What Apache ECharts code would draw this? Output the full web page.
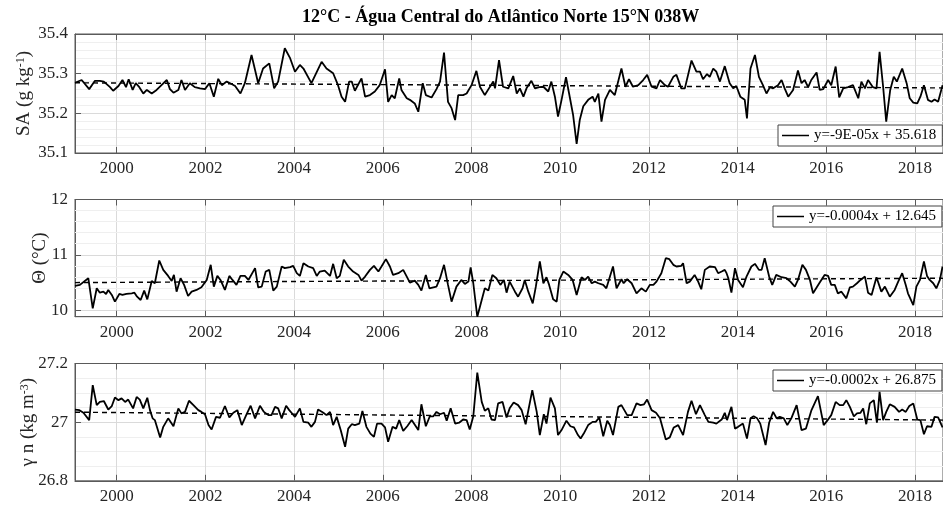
<!DOCTYPE html>
<html>
<head>
<meta charset="utf-8">
<script src="https://cdn.jsdelivr.net/npm/echarts@6/dist/echarts.min.js"></script>
<style>
html, body { margin: 0; padding: 0; background: #fff; }
#chart { width: 943px; height: 505px; }
</style>
</head>
<body>
<div id="chart"></div>
<script>
// ---- data (decimal year, value) ----
const titleText = '12°C - Água Central do Atlântico Norte 15°N 038W';
const yearTicks = [2000, 2002, 2004, 2006, 2008, 2010, 2012, 2014, 2016, 2018];
const xMin = 1999.06;
const xMax = 2018.63;

const saLegend = 'y=-9E-05x + 35.618';
const saTicks = [35.1, 35.2, 35.3, 35.4];
const saTrend = [[1999.06, 35.277], [2018.63, 35.264]];
const saData = [
  [1999.06,35.277],[1999.21,35.284],[1999.38,35.261],[1999.51,35.282],[1999.62,35.282],[1999.71,35.280],[1999.85,35.266],[1999.92,35.257],
  [2000.04,35.269],[2000.13,35.284],[2000.21,35.266],[2000.27,35.286],[2000.36,35.259],[2000.43,35.276],[2000.51,35.266],[2000.60,35.250],
  [2000.68,35.259],[2000.79,35.250],[2000.90,35.259],[2001.01,35.271],[2001.13,35.284],[2001.20,35.261],[2001.28,35.252],[2001.39,35.259],
  [2001.46,35.284],[2001.54,35.259],[2001.65,35.276],[2001.76,35.266],[2001.88,35.263],[2001.99,35.261],[2002.09,35.276],[2002.19,35.242],
  [2002.29,35.287],[2002.37,35.271],[2002.48,35.280],[2002.59,35.274],[2002.67,35.269],[2002.79,35.250],[2002.89,35.276],[2003.04,35.347],
  [2003.19,35.276],[2003.30,35.313],[2003.44,35.326],[2003.55,35.263],[2003.64,35.280],[2003.79,35.364],[2003.91,35.339],[2004.02,35.305],
  [2004.13,35.322],[2004.21,35.313],[2004.39,35.276],[2004.62,35.330],[2004.73,35.313],[2004.88,35.301],[2004.99,35.271],[2005.07,35.242],
  [2005.15,35.229],[2005.24,35.280],[2005.30,35.280],[2005.37,35.257],[2005.52,35.288],[2005.60,35.242],[2005.71,35.246],[2005.82,35.255],
  [2005.93,35.271],[2006.05,35.311],[2006.12,35.229],[2006.20,35.246],[2006.27,35.238],[2006.37,35.288],[2006.42,35.259],[2006.54,35.238],
  [2006.61,35.234],[2006.72,35.225],[2006.80,35.204],[2006.90,35.276],[2006.97,35.246],[2007.10,35.240],[2007.21,35.261],[2007.29,35.280],
  [2007.38,35.353],[2007.47,35.229],[2007.55,35.213],[2007.63,35.183],[2007.70,35.246],[2007.81,35.246],[2007.89,35.250],[2008.00,35.271],
  [2008.11,35.307],[2008.19,35.267],[2008.30,35.246],[2008.41,35.266],[2008.49,35.280],[2008.53,35.263],[2008.62,35.334],[2008.71,35.267],
  [2008.83,35.263],[2008.94,35.294],[2009.02,35.250],[2009.09,35.263],[2009.17,35.242],[2009.24,35.263],[2009.35,35.282],[2009.43,35.263],
  [2009.53,35.266],[2009.62,35.267],[2009.73,35.255],[2009.80,35.280],[2009.88,35.242],[2009.95,35.192],[2010.03,35.234],[2010.13,35.291],
  [2010.20,35.250],[2010.29,35.196],[2010.37,35.123],[2010.44,35.183],[2010.52,35.218],[2010.63,35.234],[2010.73,35.242],[2010.78,35.229],
  [2010.86,35.250],[2010.93,35.179],[2011.01,35.234],[2011.12,35.259],[2011.23,35.246],[2011.38,35.313],[2011.47,35.267],[2011.55,35.286],
  [2011.64,35.267],[2011.76,35.271],[2011.87,35.284],[2011.96,35.297],[2012.06,35.267],[2012.17,35.263],[2012.25,35.284],[2012.36,35.271],
  [2012.43,35.267],[2012.55,35.292],[2012.62,35.297],[2012.73,35.263],[2012.81,35.263],[2012.96,35.333],[2013.07,35.305],[2013.15,35.305],
  [2013.22,35.286],[2013.31,35.299],[2013.37,35.292],[2013.45,35.313],[2013.52,35.305],[2013.60,35.280],[2013.71,35.319],[2013.82,35.276],
  [2013.90,35.263],[2013.97,35.269],[2014.06,35.242],[2014.16,35.234],[2014.21,35.187],[2014.29,35.313],[2014.39,35.347],[2014.48,35.292],
  [2014.57,35.271],[2014.65,35.250],[2014.73,35.266],[2014.80,35.263],[2014.91,35.271],[2014.99,35.284],[2015.06,35.263],[2015.14,35.242],
  [2015.25,35.259],[2015.36,35.308],[2015.44,35.276],[2015.51,35.284],[2015.59,35.266],[2015.66,35.284],[2015.78,35.303],[2015.85,35.259],
  [2015.93,35.261],[2016.04,35.284],[2016.11,35.271],[2016.21,35.318],[2016.29,35.240],[2016.38,35.263],[2016.49,35.266],[2016.60,35.271],
  [2016.72,35.238],[2016.79,35.280],[2016.87,35.263],[2016.94,35.284],[2017.05,35.266],[2017.13,35.263],[2017.20,35.355],[2017.28,35.267],
  [2017.35,35.179],[2017.44,35.259],[2017.52,35.292],[2017.59,35.280],[2017.71,35.313],[2017.81,35.276],[2017.88,35.238],[2017.96,35.227],
  [2018.05,35.225],[2018.12,35.242],[2018.20,35.271],[2018.29,35.234],[2018.37,35.229],[2018.44,35.235],[2018.52,35.229],[2018.62,35.271]
];

const thetaLegend = 'y=-0.0004x + 12.645';
const thetaTicks = [10, 11, 12];
const thetaMinor = [10.2, 10.4, 10.6, 10.8, 11.2, 11.4, 11.6, 11.8];
const thetaTrend = [[1999.06, 10.497], [2018.63, 10.576]];
const thetaData = [
  [1999.06,10.436],[1999.17,10.455],[1999.36,10.576],[1999.46,10.030],[1999.55,10.394],[1999.62,10.315],[1999.70,10.333],[1999.76,10.291],
  [1999.81,10.364],[1999.89,10.273],[1999.96,10.152],[2000.06,10.291],[2000.13,10.273],[2000.22,10.291],[2000.34,10.303],[2000.40,10.315],
  [2000.46,10.242],[2000.54,10.182],[2000.62,10.352],[2000.69,10.194],[2000.79,10.527],[2000.86,10.485],[2000.96,10.897],[2001.05,10.727],
  [2001.16,10.618],[2001.24,10.527],[2001.29,10.636],[2001.35,10.333],[2001.44,10.576],[2001.52,10.455],[2001.61,10.255],[2001.69,10.333],
  [2001.80,10.364],[2001.91,10.412],[2002.03,10.545],[2002.12,10.818],[2002.19,10.424],[2002.27,10.618],[2002.34,10.545],[2002.44,10.364],
  [2002.54,10.618],[2002.61,10.545],[2002.70,10.455],[2002.79,10.618],[2002.89,10.618],[2002.97,10.545],[2003.12,10.758],[2003.19,10.412],
  [2003.27,10.424],[2003.36,10.697],[2003.44,10.727],[2003.53,10.352],[2003.61,10.424],[2003.72,10.788],[2003.79,10.758],[2003.91,10.776],
  [2003.98,10.800],[2004.06,10.667],[2004.13,10.618],[2004.21,10.848],[2004.32,10.788],[2004.43,10.758],[2004.51,10.618],[2004.58,10.697],
  [2004.69,10.715],[2004.81,10.618],[2004.88,10.836],[2004.96,10.576],[2005.03,10.618],[2005.12,10.909],[2005.22,10.788],[2005.33,10.697],
  [2005.45,10.636],[2005.52,10.533],[2005.60,10.606],[2005.71,10.727],[2005.80,10.800],[2005.90,10.697],[2005.97,10.788],[2006.07,10.921],
  [2006.16,10.788],[2006.23,10.636],[2006.35,10.667],[2006.46,10.727],[2006.54,10.606],[2006.61,10.497],[2006.72,10.533],[2006.80,10.455],
  [2006.87,10.352],[2006.97,10.636],[2007.05,10.394],[2007.14,10.412],[2007.21,10.424],[2007.29,10.576],[2007.38,10.818],[2007.47,10.455],
  [2007.55,10.152],[2007.66,10.424],[2007.77,10.545],[2007.85,10.473],[2007.93,10.515],[2007.98,10.770],[2008.04,10.485],[2008.13,9.879],
  [2008.23,10.182],[2008.30,10.394],[2008.38,10.352],[2008.47,10.636],[2008.56,10.576],[2008.65,10.455],[2008.73,10.545],[2008.79,10.315],
  [2008.86,10.515],[2008.98,10.333],[2009.05,10.242],[2009.15,10.394],[2009.20,10.545],[2009.28,10.333],[2009.38,10.121],[2009.45,10.424],
  [2009.54,10.879],[2009.62,10.485],[2009.69,10.594],[2009.75,10.455],[2009.84,10.194],[2009.92,10.152],[2009.98,10.545],[2010.07,10.697],
  [2010.18,10.636],[2010.28,10.545],[2010.37,10.273],[2010.48,10.594],[2010.56,10.545],[2010.63,10.606],[2010.71,10.485],[2010.78,10.515],
  [2010.86,10.485],[2010.97,10.455],[2011.04,10.394],[2011.19,10.788],[2011.27,10.394],[2011.38,10.558],[2011.43,10.485],[2011.51,10.558],
  [2011.61,10.485],[2011.72,10.303],[2011.83,10.394],[2011.93,10.333],[2012.02,10.455],[2012.10,10.455],[2012.17,10.515],[2012.28,10.667],
  [2012.38,10.939],[2012.46,10.921],[2012.55,10.818],[2012.62,10.788],[2012.73,10.800],[2012.77,10.848],[2012.85,10.485],[2012.92,10.515],
  [2013.03,10.636],[2013.11,10.515],[2013.18,10.376],[2013.26,10.727],[2013.37,10.788],[2013.49,10.776],[2013.56,10.667],[2013.64,10.697],
  [2013.71,10.727],[2013.75,10.667],[2013.79,10.576],[2013.86,10.315],[2013.94,10.758],[2014.01,10.545],[2014.12,10.412],[2014.20,10.606],
  [2014.31,10.788],[2014.39,10.836],[2014.48,10.727],[2014.54,10.727],[2014.61,10.939],[2014.71,10.606],[2014.78,10.455],[2014.87,10.636],
  [2014.99,10.594],[2015.10,10.576],[2015.19,10.515],[2015.29,10.424],[2015.36,10.545],[2015.46,10.818],[2015.54,10.727],[2015.63,10.545],
  [2015.70,10.303],[2015.84,10.485],[2015.96,10.636],[2016.04,10.618],[2016.11,10.455],[2016.19,10.455],[2016.26,10.303],[2016.34,10.333],
  [2016.45,10.212],[2016.53,10.412],[2016.60,10.424],[2016.69,10.485],[2016.77,10.545],[2016.87,10.606],[2016.94,10.315],[2017.02,10.273],
  [2017.13,10.594],[2017.24,10.333],[2017.32,10.424],[2017.43,10.242],[2017.54,10.364],[2017.62,10.515],[2017.71,10.667],[2017.79,10.455],
  [2017.84,10.303],[2017.96,10.091],[2018.03,10.424],[2018.11,10.545],[2018.20,10.879],[2018.27,10.618],[2018.33,10.545],[2018.41,10.485],
  [2018.48,10.394],[2018.56,10.545],[2018.62,10.788]
];

const gammaLegend = 'y=-0.0002x + 26.875';
const gammaTicks = [26.8, 27, 27.2];
const gammaTrend = [[1999.06, 27.034], [2018.63, 27.007]];
const gammaData = [
  [1999.06,27.043],[1999.16,27.041],[1999.25,27.032],[1999.38,27.007],[1999.46,27.126],[1999.55,27.058],[1999.62,27.069],[1999.71,27.072],
  [1999.81,27.043],[1999.89,27.055],[1999.96,27.084],[2000.04,27.075],[2000.11,27.081],[2000.19,27.069],[2000.26,27.077],[2000.37,27.047],
  [2000.45,27.086],[2000.52,27.077],[2000.60,27.047],[2000.69,27.083],[2000.75,27.041],[2000.81,27.013],[2000.86,27.007],[2000.98,26.948],
  [2001.05,26.984],[2001.16,27.013],[2001.28,26.986],[2001.39,27.047],[2001.46,27.030],[2001.54,27.035],[2001.63,27.073],[2001.73,27.058],
  [2001.84,27.041],[2001.91,27.035],[2001.99,27.027],[2002.07,26.990],[2002.14,26.975],[2002.24,27.018],[2002.33,27.015],[2002.44,27.055],
  [2002.54,27.016],[2002.63,27.032],[2002.72,27.041],[2002.82,26.990],[2002.93,27.027],[2003.02,27.056],[2003.12,27.013],[2003.23,27.056],
  [2003.32,27.035],[2003.42,27.024],[2003.49,27.024],[2003.57,27.052],[2003.64,27.047],[2003.72,27.013],[2003.82,27.056],[2003.89,27.041],
  [2003.97,27.027],[2004.02,27.018],[2004.13,27.047],[2004.21,27.001],[2004.32,26.998],[2004.39,26.984],[2004.47,27.001],[2004.54,27.043],
  [2004.66,27.032],[2004.73,27.024],[2004.81,27.035],[2004.88,26.990],[2004.96,27.018],[2005.05,26.973],[2005.15,26.916],[2005.22,26.978],
  [2005.30,26.993],[2005.37,26.990],[2005.47,26.995],[2005.54,27.038],[2005.63,26.984],[2005.72,26.961],[2005.80,26.950],[2005.87,26.995],
  [2005.97,26.995],[2006.05,26.982],[2006.12,26.933],[2006.22,26.984],[2006.30,26.978],[2006.37,27.007],[2006.46,26.970],[2006.55,26.986],
  [2006.65,27.007],[2006.80,26.973],[2006.87,27.061],[2006.97,26.986],[2007.06,27.020],[2007.14,27.020],[2007.21,27.035],[2007.29,27.027],
  [2007.38,27.032],[2007.44,27.005],[2007.53,27.047],[2007.63,26.995],[2007.72,26.998],[2007.81,27.009],[2007.89,27.007],[2007.96,26.975],
  [2008.04,27.020],[2008.13,27.169],[2008.23,27.069],[2008.30,27.039],[2008.38,27.047],[2008.45,27.009],[2008.53,27.007],[2008.60,27.064],
  [2008.70,27.069],[2008.79,27.016],[2008.86,27.047],[2008.95,27.067],[2009.05,27.058],[2009.13,27.041],[2009.22,26.993],[2009.37,27.109],
  [2009.47,27.035],[2009.54,26.956],[2009.63,27.027],[2009.69,26.995],[2009.78,27.084],[2009.88,27.047],[2009.95,26.956],[2010.03,26.973],
  [2010.14,27.005],[2010.23,26.986],[2010.31,26.982],[2010.40,26.956],[2010.46,26.944],[2010.53,26.961],[2010.63,26.990],[2010.73,27.001],
  [2010.80,27.001],[2010.88,27.016],[2010.97,26.952],[2011.06,27.005],[2011.12,26.990],[2011.19,26.956],[2011.31,27.052],[2011.38,27.058],
  [2011.51,27.024],[2011.61,27.024],[2011.72,27.064],[2011.81,27.058],[2011.89,27.061],[2011.96,27.077],[2012.06,27.041],[2012.16,27.032],
  [2012.25,27.013],[2012.38,26.941],[2012.47,26.948],[2012.56,26.982],[2012.66,26.990],[2012.77,26.956],[2012.88,27.035],[2012.96,27.073],
  [2013.06,27.027],[2013.15,27.058],[2013.26,27.024],[2013.34,27.001],[2013.45,26.998],[2013.52,26.995],[2013.64,27.009],[2013.71,27.032],
  [2013.76,27.007],[2013.86,27.052],[2013.94,26.978],[2014.01,26.984],[2014.12,26.995],[2014.21,26.944],[2014.29,27.013],[2014.36,27.020],
  [2014.44,27.013],[2014.51,26.995],[2014.63,26.922],[2014.71,26.998],[2014.80,27.035],[2014.88,27.013],[2014.95,27.018],[2015.04,27.013],
  [2015.12,26.990],[2015.21,27.013],[2015.33,27.058],[2015.44,26.973],[2015.54,26.978],[2015.66,27.039],[2015.81,27.089],[2015.94,26.990],
  [2016.02,27.005],[2016.11,27.024],[2016.21,27.069],[2016.30,27.058],[2016.38,27.058],[2016.45,27.075],[2016.53,27.052],[2016.62,27.020],
  [2016.69,27.030],[2016.77,27.032],[2016.83,27.047],[2016.90,26.993],[2016.98,27.064],[2017.07,27.075],[2017.14,26.998],[2017.20,27.103],
  [2017.28,27.007],[2017.35,27.035],[2017.43,27.061],[2017.54,27.052],[2017.64,27.035],[2017.71,27.043],[2017.79,27.035],[2017.87,27.055],
  [2017.96,27.064],[2018.05,27.009],[2018.12,27.007],[2018.20,26.959],[2018.27,26.986],[2018.37,26.984],[2018.44,27.018],[2018.52,27.016],
  [2018.62,26.982]
];

// ---- chart ----
const serif = 'Liberation Serif';
const axisColor = '#5a5a5a';
const textColor = '#262626';

const panels = [
  { data: saData, trend: saTrend, legend: saLegend, name: 'SA (g kg{sup|-1})', min: 35.1, max: 35.4, interval: 0.1,
    minor: 5, top: 34, height: 119, nameGap: 41, legendLeft: 778, legendTop: 125 },
  { data: thetaData, trend: thetaTrend, legend: thetaLegend, name: 'Θ (°C)', min: 9.88, max: 12, ticks: thetaTicks,
    top: 199.5, height: 117.2, nameGap: 25, legendLeft: 773, legendTop: 206 },
  { data: gammaData, trend: gammaTrend, legend: gammaLegend, name: 'γ n (kg m{sup|-3})', min: 26.8, max: 27.2, interval: 0.2,
    minor: 4, top: 363.5, height: 117.3, nameGap: 37, legendLeft: 773, legendTop: 370 }
];

const grid = [], xAxis = [], yAxis = [], series = [], legend = [];

panels.forEach(function (p, i) {
  grid.push({ left: 75, right: 0, top: p.top, height: p.height, show: true, borderColor: axisColor, borderWidth: 1 });

  xAxis.push({
    gridIndex: i, type: 'value', min: xMin, max: xMax,
    axisLine: { show: true, onZero: false, lineStyle: { color: axisColor } },
    axisTick: { show: true, inside: true, length: 6, lineStyle: { color: axisColor }, customValues: yearTicks },
    axisLabel: {
      fontFamily: serif, fontSize: 17, color: textColor, margin: 7, customValues: yearTicks,
      formatter: function (v) { return String(v); }
    },
    splitLine: { show: true, lineStyle: { color: '#dadada' } }
  });
  xAxis.push({
    gridIndex: i, type: 'value', position: 'top', min: xMin, max: xMax,
    axisLine: { show: true, onZero: false, lineStyle: { color: axisColor } },
    axisTick: { show: true, inside: true, length: 6, lineStyle: { color: axisColor }, customValues: yearTicks },
    axisLabel: { show: false, customValues: yearTicks },
    splitLine: { show: false }
  });

  yAxis.push({
    gridIndex: i, type: 'value', min: p.min, max: p.max, interval: p.interval,
    name: p.name, nameLocation: 'middle', nameRotate: 90, nameGap: p.nameGap, nameMoveOverlap: false,
    nameTextStyle: {
      fontFamily: serif, fontSize: 19, color: textColor,
      rich: { sup: { fontFamily: serif, fontSize: 12, color: textColor, verticalAlign: 'top' } }
    },
    axisLine: { show: true, onZero: false, lineStyle: { color: axisColor } },
    axisTick: { show: true, inside: true, length: 6, lineStyle: { color: axisColor }, customValues: p.ticks },
    axisLabel: { fontFamily: serif, fontSize: 17, color: textColor, margin: 7, customValues: p.ticks },
    splitLine: { show: true, lineStyle: { color: '#dadada' } },
    minorTick: { show: false, splitNumber: p.minor || 5 },
    minorSplitLine: { show: !!p.minor, lineStyle: { color: '#efefef' } }
  });

  const trendSeries = {
    type: 'line', xAxisIndex: 2 * i, yAxisIndex: i, data: p.trend,
    symbol: 'none', silent: true, z: 3,
    lineStyle: { color: '#000', width: 1.4, type: [5, 4] }
  };
  if (i === 1) {
    trendSeries.markLine = {
      silent: true, symbol: 'none', z: 1, animation: false,
      label: { show: false },
      lineStyle: { color: '#efefef', type: 'solid', width: 1 },
      data: thetaMinor.map(function (v) { return { yAxis: v }; })
    };
  }
  series.push(trendSeries);
  series.push({
    type: 'line', name: p.legend, xAxisIndex: 2 * i, yAxisIndex: i, data: p.data,
    symbol: 'none', showSymbol: false, z: 4,
    lineStyle: { color: '#000', width: 1.8 }, itemStyle: { color: '#000' }
  });

  legend.push({
    data: [p.legend], left: p.legendLeft, top: p.legendTop, selectedMode: false,
    icon: 'rect', itemWidth: 27, itemHeight: 1.5,
    backgroundColor: '#fff', borderColor: '#444', borderWidth: 1, borderRadius: 0,
    padding: [3, 6, 3, 4],
    textStyle: { fontFamily: serif, fontSize: 15, color: '#000' }
  });
});

const option = {
  animation: false,
  backgroundColor: '#fff',
  title: {
    text: titleText, left: 302, top: 8, padding: 0,
    textStyle: { fontFamily: serif, fontSize: 18, fontWeight: 'bold', color: '#000' }
  },
  legend: legend,
  grid: grid,
  xAxis: xAxis,
  yAxis: yAxis,
  series: series
};

const myChart = echarts.init(document.getElementById('chart'));
myChart.setOption(option);
</script>
</body>
</html>
